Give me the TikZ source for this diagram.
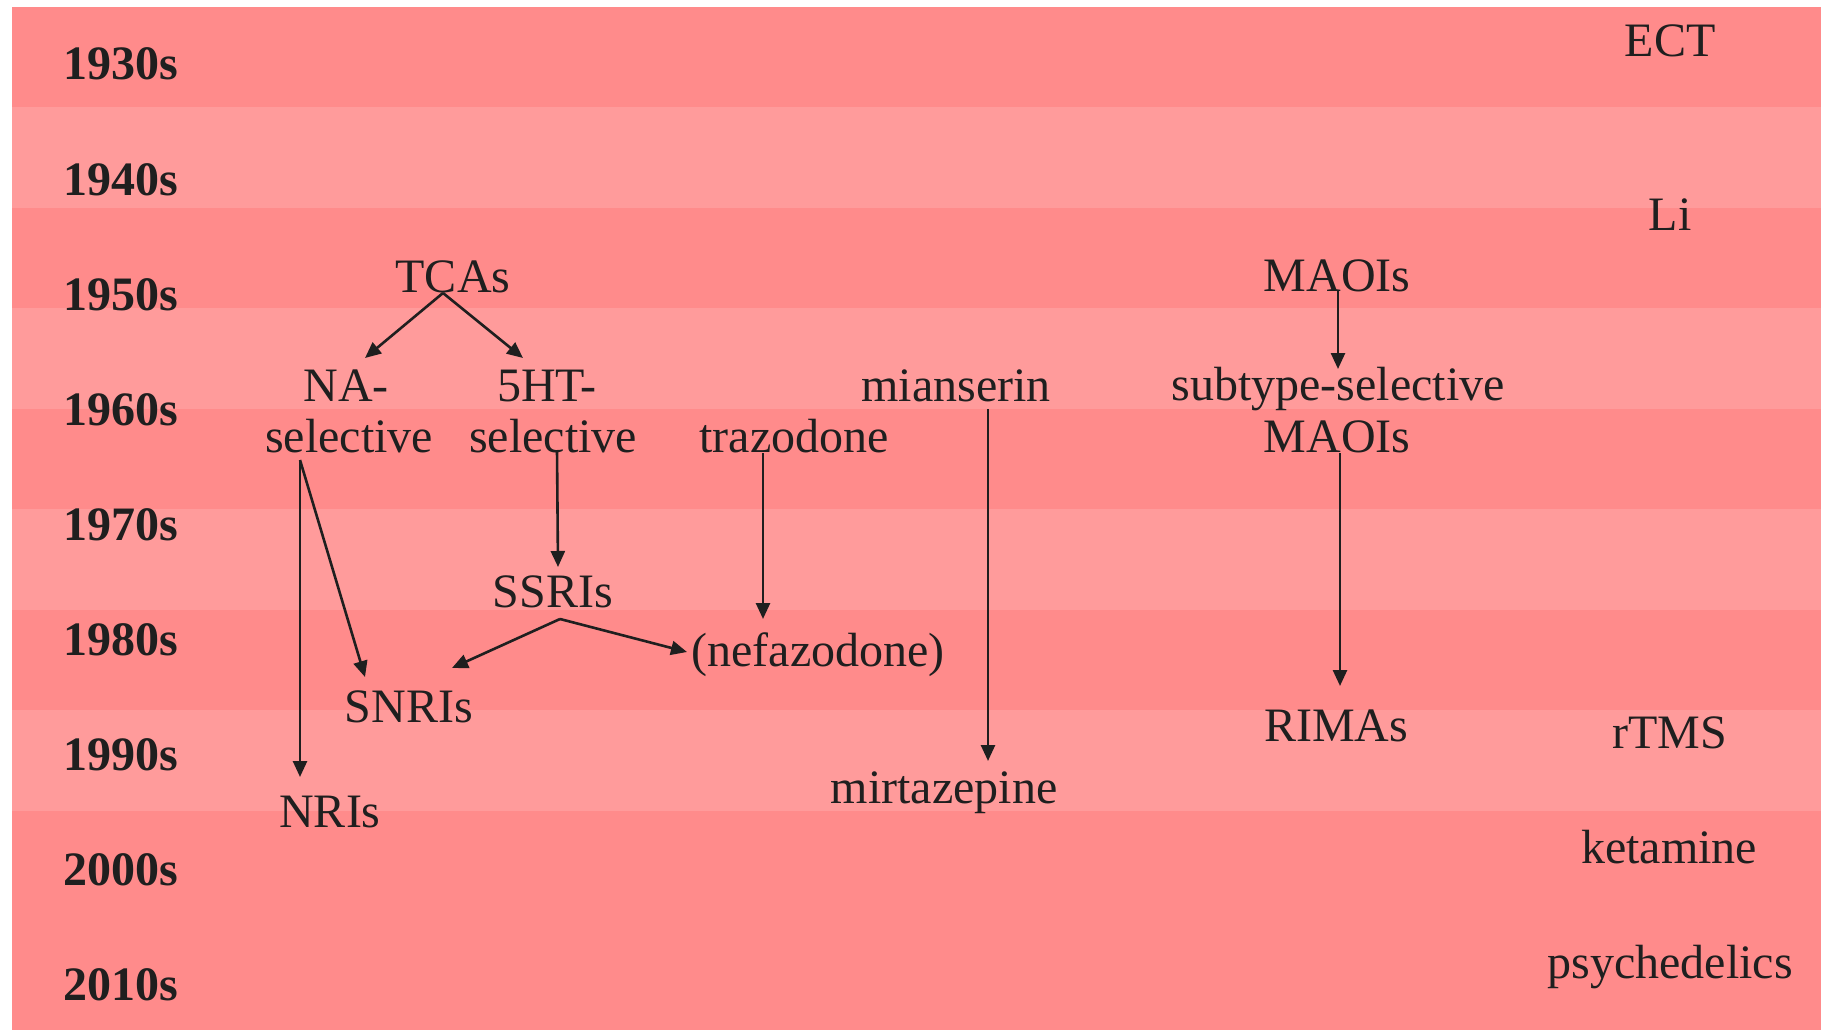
\documentclass[tikz,border=0pt]{standalone}
\usepackage{fontspec}
\setmainfont{Liberation Serif}
\usetikzlibrary{arrows.meta,calc}
\definecolor{banddark}{HTML}{FF8B8B}
\definecolor{bandlight}{HTML}{FF9B9B}
\definecolor{ink}{HTML}{1F1F1F}
\begin{document}
\begin{tikzpicture}[x=1pt,y=-1pt,
  lbl/.style={anchor=base,inner sep=0pt,text=ink,font=\fontsize{48}{51}\selectfont},
  decade/.style={anchor=base west,inner sep=0pt,text=ink,font=\fontsize{48}{51}\selectfont\bfseries},
  arr/.style={draw=ink,line width=2.6pt,-{Triangle[length=16pt,width=14pt]}}]
\useasboundingbox (0,0) rectangle (1821,1030);
\fill[white] (0,0) rectangle (1821,1030);
% bands
\fill[banddark] (12,7) rectangle (1821,1030);
\foreach \t/\b in {107/208,308/409,509/610,710/811}
  \fill[bandlight] (12,\t) rectangle (1821,\b);
% decade labels
\foreach \d [count=\i from 0] in {1930s,1940s,1950s,1960s,1970s,1980s,1990s,2000s,2010s}
  \node[decade] (dec\i) at (63,80+115*\i) {\d};
% right column
\node[lbl] (ect) at (1670,57) {ECT};
\node[lbl] (li) at (1670,230) {Li};
\node[lbl] (rtms) at (1670,748) {rTMS};
\node[lbl] (ket) at (1669,863) {ketamine};
\node[lbl] (psy) at (1670,978) {psychedelics};
% main nodes
\node[lbl] (tca) at (453,292) {TCAs};
\node[lbl] (maoi) at (1337,291) {MAOIs};
\node[lbl] (na1) at (346,401) {NA-};
\node[lbl] (na2) at (349,452) {selective};
\node[lbl] (ht1) at (547,401) {5HT-};
\node[lbl] (ht2) at (553,452) {selective};
\node[lbl] (sub1) at (1338,400) {subtype-selective};
\node[lbl] (sub2) at (1337,452) {MAOIs};
\node[lbl] (mian) at (956,401) {mianserin};
\node[lbl] (traz) at (794,452) {trazodone};
\node[lbl] (ssri) at (553,607) {SSRIs};
\node[lbl] (nefa) at (818,666) {(nefazodone)};
\node[lbl] (snri) at (409,722) {SNRIs};
\node[lbl] (nri) at (330,827) {NRIs};
\node[lbl] (rima) at (1336,741) {RIMAs};
\node[lbl] (mirt) at (944,803) {mirtazepine};
% connectors
\draw[arr] ($(tca.base)+(-10,1)$) -- ($(na1.base)+(19,-43)$);
\draw[arr] ($(tca.base)+(-10,1)$) -- ($(ht1.base)+(-24,-43)$);
\draw[arr] ($(ht2.base)+(4,-2)$) -- ($(ssri.base)+(5,-40)$);
\draw[arr] ($(na2.base)+(-49,8)$) -- ($(nri.base)+(-30,-50)$);
\draw[arr] ($(na2.base)+(-49,8)$) -- ($(snri.base)+(-44,-45)$);
\draw[arr] ($(ssri.base)+(7,12)$) -- ($(snri.base)+(43,-54)$);
\draw[arr] ($(ssri.base)+(7,12)$) -- ($(nefa.base)+(-131,-14)$);
\draw[arr] ($(traz.base)+(-31,1)$) -- ($(nefa.base)+(-55,-47)$);
\draw[arr] ($(mian.base)+(32,8)$) -- ($(mirt.base)+(44,-42)$);
\draw[arr] ($(maoi.base)+(1,-1)$) -- ($(sub1.base)+(0,-31)$);
\draw[arr] ($(sub2.base)+(3,1)$) -- ($(rima.base)+(4,-55)$);
\end{tikzpicture}
\end{document}
